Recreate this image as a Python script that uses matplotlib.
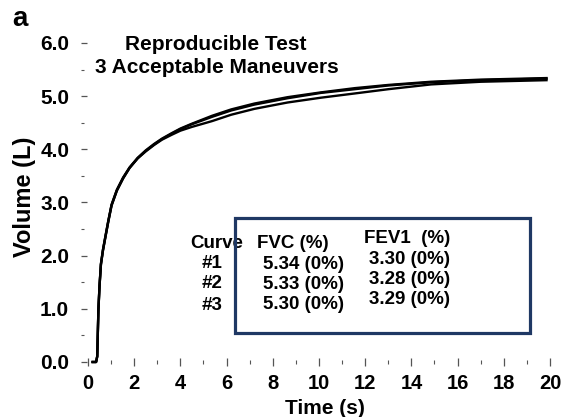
import matplotlib
matplotlib.use("Agg")
import matplotlib.pyplot as plt
from matplotlib.patches import Rectangle
from matplotlib.ticker import FixedLocator, MultipleLocator

plt.rcParams["font.family"] = ["Liberation Sans", "DejaVu Sans"]
plt.rcParams["font.weight"] = "bold"

# Volume-time traces of three forced expirations
time_s = [0.15, 0.35, 0.40, 0.45, 0.50, 0.56, 0.65, 0.76, 0.88, 1.02,
          1.25, 1.52, 1.80, 2.15, 2.50, 2.86, 3.20, 3.61, 4.00, 4.49,
          5.37, 6.20, 7.20, 8.64, 10.08, 11.55, 13.00, 14.85, 17.00, 19.90]
volume_1 = [0.0, 0.0, 0.11, 0.99, 1.45, 1.85, 2.12, 2.38, 2.66, 2.96,
            3.24, 3.47, 3.66, 3.84, 3.98, 4.10, 4.20, 4.30, 4.39, 4.48,
            4.63, 4.75, 4.86, 4.98, 5.07, 5.15, 5.21, 5.27, 5.31, 5.34]
volume_2 = [0.0, 0.0, 0.10, 0.97, 1.43, 1.83, 2.10, 2.36, 2.64, 2.94,
            3.22, 3.45, 3.65, 3.83, 3.97, 4.09, 4.19, 4.29, 4.38, 4.47,
            4.61, 4.73, 4.84, 4.96, 5.06, 5.13, 5.20, 5.26, 5.30, 5.33]
volume_3 = [0.0, 0.0, 0.11, 0.98, 1.44, 1.84, 2.11, 2.37, 2.65, 2.95,
            3.23, 3.46, 3.65, 3.83, 3.96, 4.08, 4.18, 4.27, 4.35, 4.42,
            4.53, 4.65, 4.76, 4.88, 4.97, 5.05, 5.13, 5.22, 5.27, 5.30]

x_ticks = [0, 2, 4, 6, 8, 10, 12, 14, 16, 18, 20]
x_tick_labels = ["0", "2", "4", "6", "8", "10", "12", "14", "16", "18", "20"]
y_ticks = [0, 1, 2, 3, 4, 5, 6]
y_tick_labels = ["0.0", "1.0", "2.0", "3.0", "4.0", "5.0", "6.0"]

# Summary table
curve_ids = ["#1", "#2", "#3"]
fvc_l = [5.34, 5.33, 5.30]
fvc_pct = [0, 0, 0]
fev1_l = [3.30, 3.28, 3.29]
fev1_pct = [0, 0, 0]

fig = plt.figure(figsize=(5.67, 4.17), dpi=100)
ax = fig.add_axes([0.14298, 0.1319, 0.8433, 0.8034])
ax.set_xlim(-0.3, 20.4)
ax.set_ylim(0, 6.3)
for sp in ax.spines.values():
    sp.set_visible(False)

for vol in (volume_1, volume_2, volume_3):
    ax.plot(time_s, vol, color="black", lw=1.7, clip_on=False,
            solid_capstyle="butt", solid_joinstyle="round")

tick_color = "#555555"
ax.xaxis.set_major_locator(FixedLocator(x_ticks))
ax.set_xticklabels(x_tick_labels)
ax.xaxis.set_minor_locator(MultipleLocator(1))
ax.yaxis.set_major_locator(FixedLocator(y_ticks))
ax.set_yticklabels(y_tick_labels)
ax.yaxis.set_minor_locator(MultipleLocator(0.5))

ax.tick_params(axis="x", which="major", direction="inout", length=5.5,
               width=0.9, color=tick_color, pad=6, labelsize=14.5)
ax.tick_params(axis="x", which="minor", direction="inout", length=3,
               width=0.8, color=tick_color)
ax.tick_params(axis="y", which="major", direction="in", length=4.5,
               width=0.9, color=tick_color, pad=8.6, labelsize=15)
ax.tick_params(axis="y", which="minor", direction="in", length=2.2,
               width=0.8, color=tick_color)

ax.set_xlabel("Time (s)", fontsize=15, fontweight="bold", va="center")
ax.xaxis.set_label_coords(0.51, -0.140)
ax.set_ylabel("Volume (L)", fontsize=17, fontweight="bold", va="center")
ax.yaxis.set_label_coords(-0.119, 0.4925)

ax.text(0.282, 0.949, "Reproducible Test", transform=ax.transAxes,
        ha="center", va="center", fontsize=15, fontweight="bold")
ax.text(0.284, 0.878, "3 Acceptable Maneuvers", transform=ax.transAxes,
        ha="center", va="center", fontsize=15, fontweight="bold")

fig.text(20 / 567, 1 - 19 / 417, "a", ha="center", va="center",
         fontsize=20, fontweight="bold")

# Table of results
tfs = 13.5
ax.text(0.228, 0.355, "Curve", transform=ax.transAxes, ha="left",
        va="center", fontsize=tfs)
ax.text(0.368, 0.355, "FVC (%)", transform=ax.transAxes, ha="left",
        va="center", fontsize=tfs)
ax.text(0.592, 0.370, "FEV1  (%)", transform=ax.transAxes, ha="left",
        va="center", fontsize=tfs)
row_curve = [0.293, 0.234, 0.170]
row_fvc = [0.290, 0.231, 0.173]
row_fev = [0.306, 0.246, 0.187]
for i in range(len(curve_ids)):
    ax.text(0.274, row_curve[i], curve_ids[i], transform=ax.transAxes,
            ha="center", va="center", fontsize=tfs)
    ax.text(0.381, row_fvc[i], f"{fvc_l[i]:.2f} ({fvc_pct[i]}%)",
            transform=ax.transAxes, ha="left", va="center", fontsize=tfs)
    ax.text(0.603, row_fev[i], f"{fev1_l[i]:.2f} ({fev1_pct[i]}%)",
            transform=ax.transAxes, ha="left", va="center", fontsize=tfs)

box = Rectangle((0.322, 0.0866), 0.939 - 0.322, 0.430 - 0.0866,
                transform=ax.transAxes, fill=False, edgecolor="#1f3864",
                linewidth=2.3, clip_on=False, zorder=5)
ax.add_patch(box)

fig.savefig("out.png", dpi=100)
